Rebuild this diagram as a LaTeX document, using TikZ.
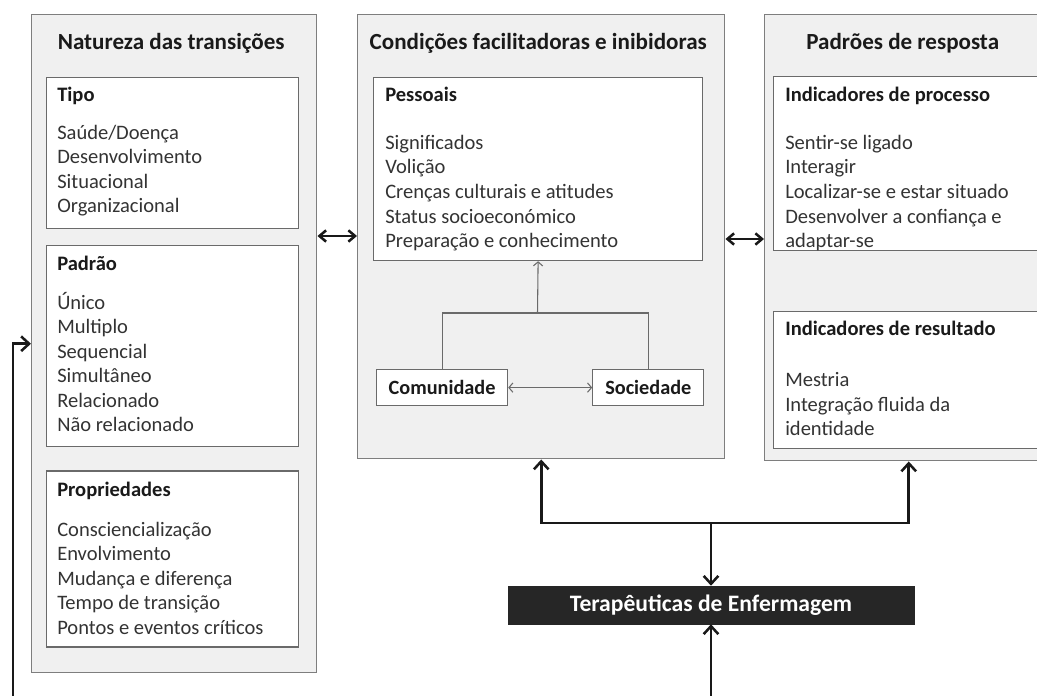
\documentclass[tikz,border=0pt]{standalone}
\usepackage{fontspec}
\setmainfont{Carlito}
\usetikzlibrary{positioning, calc, arrows.meta}

\definecolor{boxfill}{HTML}{F0F0F0}
\definecolor{boxline}{HTML}{7E7E7E}
\definecolor{innerline}{HTML}{6A6A6A}
\definecolor{txtdark}{HTML}{1A1A1A}
\definecolor{txtitem}{HTML}{333333}
\definecolor{darkfill}{HTML}{262626}

\newcommand{\listhead}[1]{\strut\textcolor{txtdark}{\bfseries #1}}

\tikzset{
  outerbox/.style={draw=boxline, fill=boxfill, line width=1.1pt, inner sep=0pt, anchor=north west},
  innerbox/.style={draw=innerline, fill=white, line width=0.9pt, inner sep=0pt},
  maintitle/.style={font=\fontsize{17.3}{20}\selectfont\bfseries, text=txtdark, anchor=base, inner sep=0pt},
  itemlist/.style={font=\fontsize{15.4}{18.4}\selectfont, text=txtitem, align=left, anchor=north west, inner sep=0pt},
  smallbox/.style={innerbox, font=\fontsize{15.2}{18}\selectfont\bfseries, text=txtdark, minimum height=27pt},
  darkbox/.style={fill=darkfill, draw=darkfill, text=white, font=\fontsize{17.7}{20}\selectfont\bfseries, minimum width=304.5pt, minimum height=28.5pt},
  flow/.style={line width=1.9pt, draw=black!90, -{Straight Barb[length=6pt,width=11pt]}},
  twoway/.style={line width=1.9pt, draw=black!90, {Straight Barb[length=5pt,width=8.5pt]}-{Straight Barb[length=5pt,width=8.5pt]}},
  thinline/.style={line width=0.8pt, draw=innerline}
}

\begin{document}
\begin{tikzpicture}[x=0.75pt, y=-0.75pt]
\clip (0,0) rectangle (1037,695);

% the three main columns
\node[outerbox, minimum width=213.75pt, minimum height=493.5pt] (natureza) at (31,14) {};
\node[outerbox, minimum width=275.25pt, minimum height=333pt] (condicoes) at (357,14) {};
\node[outerbox, minimum width=216pt, minimum height=334.5pt] (padroes) at (764,14) {};

\node[maintitle] (naturezatit) at ($(natureza.north)+(-3,36)$) {Natureza das transições};
\node[maintitle] (condicoestit) at ($(condicoes.north)+(-3,36)$) {Condições facilitadoras e inibidoras};
\node[maintitle] (padroestit) at ($(padroes.north)+(-6,36)$) {Padrões de resposta};

% natureza das transicoes
\node[innerbox, anchor=north west, minimum width=189pt, minimum height=113.25pt] (tipo) at (46,77) {};
\node[innerbox, below=12pt of tipo, minimum width=189pt, minimum height=150.75pt] (padrao) {};
\node[innerbox, below=17.25pt of padrao, minimum width=189pt, minimum height=132pt] (propriedades) {};

\node[itemlist] (tipotxt) at ($(tipo.north west)+(11,7)$) {\listhead{Tipo}\\[10pt]
  Saúde/Doença\\ Desenvolvimento\\ Situacional\\ Organizacional};
\node[itemlist] (padraotxt) at ($(padrao.north west)+(11,8)$) {\listhead{Padrão}\\[10.5pt]
  Único\\ Multiplo\\ Sequencial\\ Simultâneo\\ Relacionado\\ Não relacionado};
\node[itemlist] (propriedadestxt) at ($(propriedades.north west)+(11,9)$) {\listhead{Propriedades}\\[11pt]
  Consciencialização\\ Envolvimento\\ Mudança e diferença\\ Tempo de transição\\ Pontos e eventos críticos};

% condicoes
\node[innerbox, anchor=north west, minimum width=246.75pt, minimum height=137.25pt] (pessoais) at (373,77) {};
\node[itemlist] (pessoaistxt) at ($(pessoais.north west)+(12,7)$) {\listhead{Pessoais}\\[17.6pt]
  Significados\\ Volição\\ Crenças culturais e atitudes\\ Status socioeconómico\\ Preparação e conhecimento};
\node[smallbox, anchor=north west, minimum width=98.25pt] (comunidade) at (376,369) {Comunidade};
\node[smallbox, right=63pt of comunidade, minimum width=83.25pt] (sociedade) {Sociedade};

% padroes de resposta
\node[innerbox, anchor=north west, minimum width=204pt, minimum height=130.5pt] (processo) at (773,76) {};
\node[innerbox, below=45pt of processo, minimum width=204pt, minimum height=102.75pt] (resultado) {};
\node[itemlist] (processotxt) at ($(processo.north west)+(12,8)$) {\listhead{Indicadores de processo}\\[17.6pt]
  Sentir-se ligado\\ Interagir\\ Localizar-se e estar situado\\ Desenvolver a confiança e\\ adaptar-se};
\node[itemlist] (resultadotxt) at ($(resultado.north west)+(12,7)$) {\listhead{Indicadores de resultado}\\[19.9pt]
  Mestria\\ Integração fluida da\\ identidade};

\node[darkbox] (terapeuticas) at (711,605) {Terapêuticas de Enfermagem};

% connectors
\coordinate (lm) at (0,236);
\coordinate (mr) at (0,239);
\draw[twoway] (natureza.east |- lm) -- (condicoes.west |- lm);
\draw[twoway] (condicoes.east |- mr) -- (padroes.west |- mr);

\coordinate (branch) at (537.5,313);
\draw[thinline] (comunidade.north) |- (branch) -| (sociedade.north);
\draw[thinline, -{Straight Barb[length=3pt,width=7pt]}] (branch) -- (pessoais.south);
\draw[thinline, {Straight Barb[length=3pt,width=7pt]}-{Straight Barb[length=3pt,width=7pt]}] (comunidade) -- (sociedade);

\coordinate (split) at (711,523);
\draw[flow] (split) -- (terapeuticas.north);
\draw[flow] (split) -| (condicoes.south);
\draw[flow] (split) -| (padroes.south);
\coordinate (fromnurse) at (711,700);
\draw[flow] (fromnurse) -- (terapeuticas.south);
\coordinate (feedback) at (13,700);
\draw[flow] (feedback) |- (natureza.west);
\end{tikzpicture}
\end{document}
